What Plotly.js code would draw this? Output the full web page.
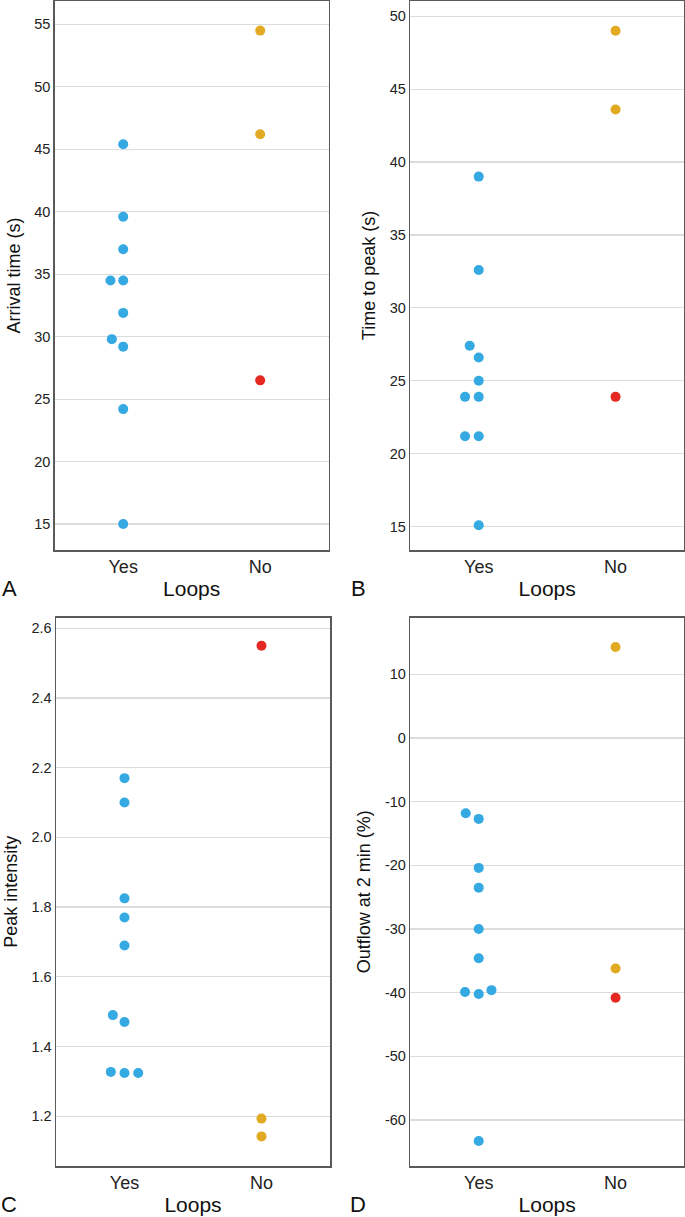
<!DOCTYPE html>
<html>
<head>
<meta charset="utf-8">
<script src="https://cdn.plot.ly/plotly-3.0.1.min.js"></script>
<style>
  html, body { margin: 0; padding: 0; background: #fff; }
  #plot { width: 685px; height: 1217px; }
</style>
</head>
<body>
<div id="plot"></div>
<script>
// categories on the x axis
var loops = ["Yes", "No"];

// A: arrival time (s)
var arrivalYes = [45.4, 39.6, 37.0, 34.5, 34.5, 31.9, 29.8, 29.2, 24.2, 15.0];
var arrivalYesJitter = [0, 0, 0, -0.093, 0, 0, -0.083, 0, 0, 0];
var arrivalNoGold = [54.5, 46.2];
var arrivalNoRed = [26.5];
var arrivalTicks = [15, 20, 25, 30, 35, 40, 45, 50, 55];

// B: time to peak (s)
var ttpYes = [39.0, 32.6, 27.4, 26.6, 25.0, 23.9, 23.9, 21.2, 21.2, 15.1];
var ttpYesJitter = [0, 0, -0.066, 0, 0, -0.1, 0, -0.1, 0, 0];
var ttpNoGold = [49.0, 43.6];
var ttpNoRed = [23.9];
var ttpTicks = [15, 20, 25, 30, 35, 40, 45, 50];

// C: peak intensity
var peakYes = [2.17, 2.10, 1.825, 1.77, 1.69, 1.49, 1.47, 1.327, 1.324, 1.324];
var peakYesJitter = [0, 0, 0, 0, 0, -0.085, 0, -0.1, 0, 0.1];
var peakNoGold = [1.193, 1.142];
var peakNoRed = [2.55];
var peakTicks = [1.2, 1.4, 1.6, 1.8, 2.0, 2.2, 2.4, 2.6];

// D: outflow at 2 min (%)
var outYes = [-11.8, -12.7, -20.4, -23.5, -30.0, -34.6, -39.9, -40.2, -39.6, -63.3];
var outYesJitter = [-0.095, 0, 0, 0, 0, 0, -0.1, 0, 0.093, 0];
var outNoGold = [14.3, -36.2];
var outNoRed = [-40.8];
var outTicks = [-60, -50, -40, -30, -20, -10, 0, 10];

var blue = "#35a9e2";
var gold = "#e2aa22";
var red = "#e52822";

function pts(vals, jit, cat, color, xa, ya) {
  return {
    x: vals.map(function (v, i) { return cat + (jit ? jit[i] : 0); }),
    y: vals,
    type: "scatter",
    mode: "markers",
    marker: { color: color, size: 10 },
    xaxis: xa,
    yaxis: ya,
    hoverinfo: "y"
  };
}

var data = [
  pts(arrivalYes, arrivalYesJitter, 0, blue, "x", "y"),
  pts(arrivalNoGold, null, 1, gold, "x", "y"),
  pts(arrivalNoRed, null, 1, red, "x", "y"),
  pts(ttpYes, ttpYesJitter, 0, blue, "x2", "y2"),
  pts(ttpNoGold, null, 1, gold, "x2", "y2"),
  pts(ttpNoRed, null, 1, red, "x2", "y2"),
  pts(peakYes, peakYesJitter, 0, blue, "x3", "y3"),
  pts(peakNoGold, null, 1, gold, "x3", "y3"),
  pts(peakNoRed, null, 1, red, "x3", "y3"),
  pts(outYes, outYesJitter, 0, blue, "x4", "y4"),
  pts(outNoGold, null, 1, gold, "x4", "y4"),
  pts(outNoRed, null, 1, red, "x4", "y4")
];

var fontFam = "Liberation Sans, Arial, sans-serif";

function xAx(domain, anchor) {
  return {
    domain: domain, anchor: anchor,
    range: [-0.5, 1.5],
    tickvals: [0, 1], ticktext: loops,
    showgrid: false, zeroline: false,
    showline: true, mirror: true, linecolor: "#5a5a5a", linewidth: 1.5,
    ticks: "", tickfont: { size: 18, color: "#222" },
    title: { text: "Loops", font: { size: 21, color: "#111" }, standoff: 5 },
    automargin: false, fixedrange: true
  };
}

function yAx(domain, anchor, range, ticks, decimals, title) {
  return {
    domain: domain, anchor: anchor,
    range: range,
    tickvals: ticks,
    // plain hyphen for negatives, fixed decimals like the original
    ticktext: ticks.map(function (t) { return t.toFixed(decimals); }),
    showgrid: true, gridcolor: "#dcdcdc", gridwidth: 1.2,
    zeroline: false,
    showline: true, mirror: true, linecolor: "#5a5a5a", linewidth: 1.5,
    ticks: "", tickfont: { size: 14.5, color: "#222" },
    title: { text: title, font: { size: 18, color: "#111" }, standoff: 9 },
    automargin: false, fixedrange: true
  };
}

var topRow = [1 - 550 / 1217, 1 - 1 / 1217];
var botRow = [1 - 1166 / 1217, 1 - 617.5 / 1217];

var layout = {
  width: 685, height: 1217,
  margin: { l: 0, r: 0, t: 0, b: 0 },
  paper_bgcolor: "#fff", plot_bgcolor: "#fff",
  showlegend: false,
  font: { family: fontFam, color: "#222" },
  xaxis: xAx([54.7 / 685, 328.7 / 685], "y"),
  yaxis: yAx(topRow, "x", [12.92, 56.87], arrivalTicks, 0, "Arrival time (s)"),
  xaxis2: xAx([410.3 / 685, 684 / 685], "y2"),
  yaxis2: yAx(topRow, "x2", [13.40, 51.04], ttpTicks, 0, "Time to peak (s)"),
  xaxis3: xAx([56 / 685, 330 / 685], "y3"),
  yaxis3: yAx(botRow, "x3", [1.057, 2.631], peakTicks, 1, "Peak intensity"),
  xaxis4: xAx([410.3 / 685, 684 / 685], "y4"),
  yaxis4: yAx(botRow, "x4", [-67.23, 18.94], outTicks, 0, "Outflow at 2 min (%)"),
  annotations: [
    { text: "A", x: 9 / 685, y: 1 - 588 / 1217 },
    { text: "B", x: 358 / 685, y: 1 - 588 / 1217 },
    { text: "C", x: 9 / 685, y: 1 - 1204 / 1217 },
    { text: "D", x: 358 / 685, y: 1 - 1204 / 1217 }
  ].map(function (a) {
    a.xref = "paper"; a.yref = "paper";
    a.showarrow = false;
    a.xanchor = "center"; a.yanchor = "middle";
    a.font = { size: 22, color: "#111" };
    return a;
  })
};

Plotly.newPlot("plot", data, layout, { staticPlot: true });
</script>
</body>
</html>
